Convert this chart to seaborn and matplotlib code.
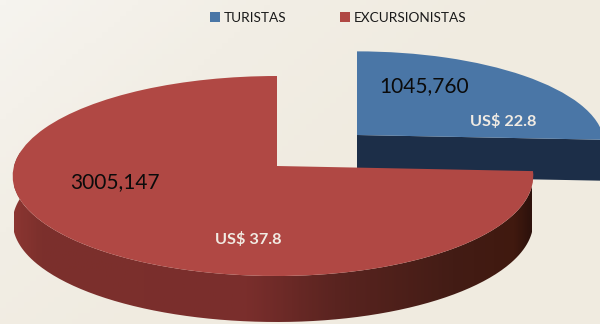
import numpy as np
import matplotlib
matplotlib.use("Agg")
import matplotlib.pyplot as plt
import seaborn as sns
from matplotlib.colors import LinearSegmentedColormap
from matplotlib.lines import Line2D
from matplotlib.patches import PathPatch
from matplotlib.path import Path
from matplotlib.transforms import Transform

categories = ["TURISTAS", "EXCURSIONISTAS"]
visitors = [1045760, 3005147]
visitor_labels = ["1045,760", "3005,147"]
spend_labels = ["US$ 22.8", "US$ 37.8"]
top_colors = ["#4a76a6", "#b04844"]

sns.set_theme(style="white")
plt.rcParams["font.family"] = ["Lato", "DejaVu Sans"]
palette = sns.color_palette(top_colors)

fig = plt.figure(figsize=(6.0, 3.24), dpi=100)
ax = fig.add_axes([0, 0, 1, 1])


class Tilted(Transform):
    """Lays a unit pie on a tilted plane, in pixel coordinates."""
    input_dims = output_dims = 2

    def __init__(self, cx, cy, left, right, ry, p=0.1):
        super().__init__()
        self.a = (cx, cy, left, right, ry, p)

    def transform_non_affine(self, xy):
        cx, cy, left, right, ry, p = self.a
        xy = np.asarray(xy, float)
        u, v = xy[:, 0], xy[:, 1]
        w = 1 + p * v
        rx = np.where(u < 0, left, right)
        return np.column_stack([cx + rx * u / w, cy - ry * v / w])


tilt_blue = Tilted(357, 135, 246, 246, 92)
tilt_red = Tilted(277, 166, 263, 255, 99)

wedges, _ = ax.pie(visitors, colors=palette, startangle=90, counterclock=False,
                   radius=1, wedgeprops=dict(linewidth=0))
ax.set_aspect("auto")
ax.set_xlim(0, 600)
ax.set_ylim(324, 0)
ax.axis("off")

for w, t, z in zip(wedges, (tilt_blue, tilt_red), (3, 5)):
    w.set_transform(t + ax.transData)
    w.set_zorder(z)
    w.set_clip_on(True)
    w.set_clip_box(ax.bbox)

# background
bg = LinearSegmentedColormap.from_list("bg", ["#f6f4ef", "#f2eee5", "#f0ebe0"])
yy, xx = np.mgrid[0:1:60j, 0:1:100j]
ax.imshow(np.clip(1.1 * xx + 0.7 * yy, 0, 1), cmap=bg, extent=(0, 600, 324, 0),
          aspect="auto", zorder=0, vmin=0, vmax=1)


def arc(t, a, b):
    th = np.radians(np.linspace(a, b, 240))
    return t.transform_non_affine(np.column_stack([np.cos(th), np.sin(th)]))


# red side wall, shaded left to right
red = wedges[1]
pts = arc(tilt_red, 172, red.theta2 if red.theta2 > 300 else red.theta2 + 360)
poly = np.vstack([pts, (pts + [0, 46])[::-1]])
wall = LinearSegmentedColormap.from_list(
    "wall", [(0, "#8a3531"), (0.05, "#7c302c"), (0.45, "#7a2e2c"),
             (0.62, "#5a2420"), (0.85, "#431c15"), (0.97, "#40190f"), (1, "#2e120c")])
im = ax.imshow(np.linspace(0, 1, 300)[None, :], cmap=wall, extent=(14, 532, 324, 0),
               aspect="auto", zorder=4)
ax.set_xlim(0, 600)
ax.set_ylim(324, 0)
clip = PathPatch(Path(poly), transform=ax.transData, fc="none", lw=0)
ax.add_patch(clip)
im.set_clip_path(clip)

# blue cut face
apex = tilt_blue.transform_non_affine(np.array([[0.0, 0.0]]))
th = np.radians(wedges[0].theta1)
rim = tilt_blue.transform_non_affine(np.array([[np.cos(th), np.sin(th)]]))
face = np.vstack([apex, rim, rim + [0, 41], apex + [0, 41]])
ax.add_patch(PathPatch(Path(face), fc="#1c2e48", lw=0, zorder=2))

# legend
handles = [Line2D([], [], ls="", marker="s", ms=7, mew=0, color=c) for c in palette]
ax.legend(handles, categories, ncols=2, loc="center", bbox_to_anchor=(337.4 / 600, 1 - 18 / 324),
          frameon=False, fontsize=9.8, labelcolor="#1a1a1a", columnspacing=3.8,
          handlelength=1.0, handletextpad=0.125, borderpad=0, labelspacing=0)

# labels
ax.text(424.5, 86, visitor_labels[0], ha="center", va="center", fontsize=15, color="#0b0b0b", zorder=8)
ax.text(114.5, 182, visitor_labels[1], ha="center", va="center", fontsize=15, color="#0b0b0b", zorder=8)
ax.text(503, 122, spend_labels[0], ha="center", va="center", fontsize=11.7, fontweight="bold",
        color="#f1ebe3", zorder=8)
ax.text(248, 239, spend_labels[1], ha="center", va="center", fontsize=11.7, fontweight="bold",
        color="#f1ebe3", zorder=8)

fig.savefig("out.png", dpi=100)
